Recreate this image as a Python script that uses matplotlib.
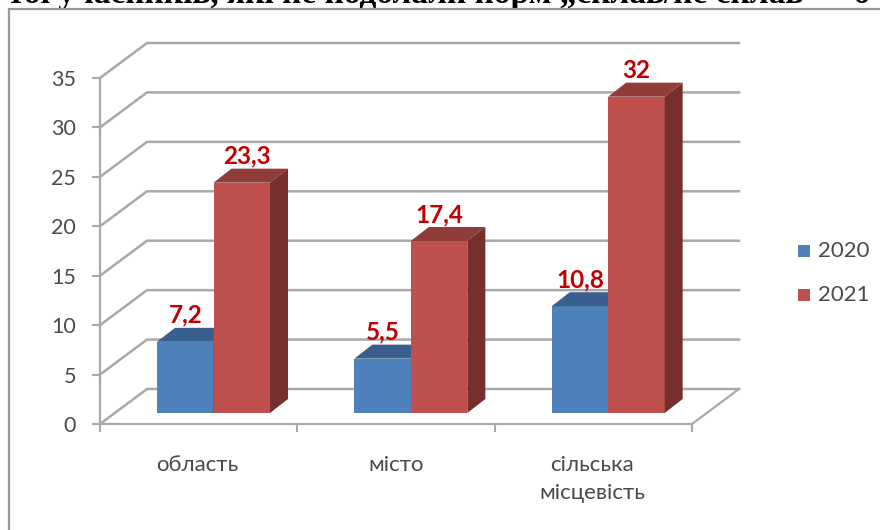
import matplotlib
matplotlib.use("Agg")
import matplotlib.pyplot as plt
from matplotlib.patches import Polygon, Rectangle

W, H = 880, 530
categories = ["область", "місто", "сільська\nмісцевість"]
years = ["2020", "2021"]
v2020 = [7.2, 5.5, 10.8]
v2021 = [23.3, 17.4, 32]
yticks = [0, 5, 10, 15, 20, 25, 30, 35]
heading = "тої учасників, які не подолали норм „склав/не склав” – б"

BLUE, BLUE_TOP = "#4f81bd", "#3a5f8f"
RED, RED_TOP, RED_SIDE = "#c0504d", "#8f3c3a", "#772f2d"
GRID = "#a9a9a9"
TXT = "#4a4a4a"
LABEL = "#c00000"
FONT = "Lato"

# axes rectangle in pixels (front of the floor)
x0, x1, ytop, ybot = 100, 692, 78, 424
fig = plt.figure(figsize=(W / 100, H / 100), dpi=100)
bg = fig.add_axes([0, 0, 1, 1])
bg.set_xlim(0, W)
bg.set_ylim(H, 0)
bg.axis("off")

# picture frame and clipped heading
bg.plot([9, 9, W], [H, 9, 9], color="#999999", lw=1.6, solid_joinstyle="miter", zorder=3)
bg.text(8, 3, heading, family="Liberation Serif", weight="bold", fontsize=24,
        color="black", va="baseline", ha="left", zorder=2)

ax = fig.add_axes([x0 / W, 1 - ybot / H, (x1 - x0) / W, (ybot - ytop) / H])
ax.set_xlim(0, 3)
ax.set_ylim(0, 35)
ax.patch.set_alpha(0)
for s in ["top", "right"]:
    ax.spines[s].set_visible(False)
for s in ["left", "bottom"]:
    ax.spines[s].set_color(GRID)
    ax.spines[s].set_linewidth(1.6)

# depth of the walls and of the bars, converted to data units
px_x = 3 / (x1 - x0)
px_y = 35 / (ybot - ytop)
wall_dx, wall_dy = 47 * px_x, 35 * px_y
bar_dx, bar_dy = 18 * px_x, 14 * px_y
base = 11 * px_y
bar_w = 56.5 * px_x
start = 57 * px_x

for t in yticks:
    ax.plot([0, wall_dx, 3 + wall_dx], [t, t + wall_dy, t + wall_dy], color=GRID, lw=1.8,
            clip_on=False, zorder=1, solid_joinstyle="miter")
ax.plot([3, 3 + wall_dx], [0, wall_dy], color=GRID, lw=1.6, clip_on=False, zorder=1)


def bar3d(x, v, face, top, side, z):
    y1 = base + v
    ax.bar(x, v, bar_w, bottom=base, align="edge", color=face, zorder=z)
    ax.add_patch(Polygon([(x, y1), (x + bar_dx, y1 + bar_dy), (x + bar_w + bar_dx, y1 + bar_dy),
                          (x + bar_w, y1)], fc=top, ec="none", zorder=z, clip_on=False))
    ax.add_patch(Polygon([(x + bar_w, base), (x + bar_w + bar_dx, base + bar_dy),
                          (x + bar_w + bar_dx, y1 + bar_dy), (x + bar_w, y1)],
                         fc=side, ec="none", zorder=z, clip_on=False))


for i in range(3):
    xb = i + start
    xr = xb + bar_w
    bar3d(xb, v2020[i], BLUE, BLUE_TOP, BLUE_TOP, 3 + i)
    bar3d(xr, v2021[i], RED, RED_TOP, RED_SIDE, 3.5 + i)
    for x, v in [(xb, v2020[i]), (xr, v2021[i])]:
        lab = str(v).replace(".", ",")
        # the 23,3 label sits a bit right of its bar in the original
        shift = 5 * px_x if v == 23.3 else 0
        ax.text(x + bar_w / 2 + shift, base + v + bar_dy + 1 * px_y, lab, color=LABEL, family=FONT,
                weight="bold", fontsize=17.5, ha="center", va="bottom", zorder=10, clip_on=False)

ax.set_yticks(yticks)
ax.set_xticks([0, 1, 2, 3])
ax.set_xticklabels([])
ax.tick_params(axis="both", color=GRID, width=1.5, length=5.8, direction="out")
ax.tick_params(axis="y", labelsize=15.5, labelcolor=TXT, pad=11.5)
for t in ax.get_yticklabels():
    t.set_family(FONT)

label_x = [197, 396, 592]
label_y = [465, 465, 455]
for c, x, y in zip(categories, label_x, label_y):
    bg.text(x, y, c, family=FONT, fontsize=16, color=TXT, ha="center", va="center" if "\n" not in c else "top",
            linespacing=1.5)

# legend
for name, col, y in zip(years, [BLUE, RED], [251, 295]):
    bg.add_patch(Rectangle((798, y - 6), 12, 12, fc=col, ec="none"))
    bg.text(818, y, name, family=FONT, fontsize=16, color=TXT, va="center", ha="left")

fig.savefig("out.png", dpi=100)
